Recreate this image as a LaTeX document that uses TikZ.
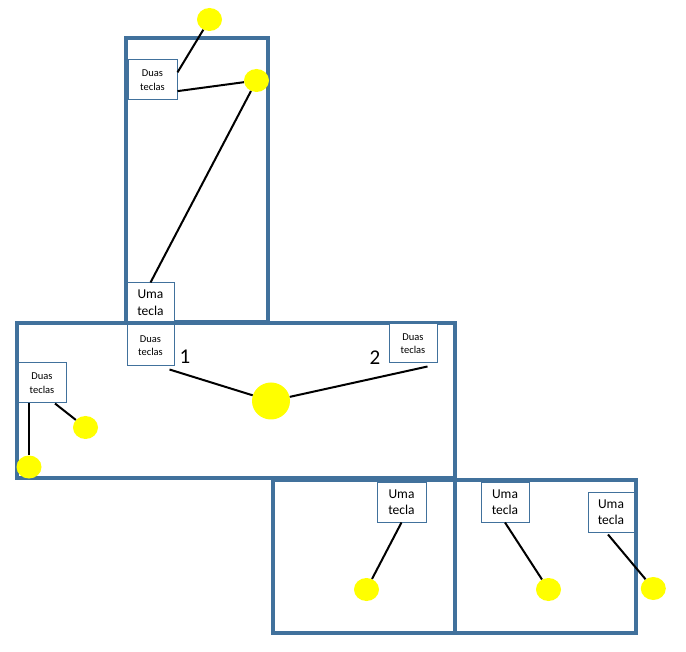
\documentclass[tikz,border=0pt]{standalone}
\usepackage{fontspec}
\setmainfont{Carlito}
\usetikzlibrary{shapes.geometric}
\definecolor{wallblue}{HTML}{41719C}
\definecolor{lampyellow}{HTML}{FFFF00}
\tikzset{
  wall/.style={draw=wallblue, line width=4pt, line join=miter},
  twokeys/.style={draw=wallblue, line width=1pt, fill=white, inner sep=0pt, align=center,
    font=\fontsize{10.5}{13.5}\selectfont},
  onekey/.style={draw=wallblue, line width=1pt, fill=white, inner sep=0pt, align=center,
    font=\fontsize{13.5}{16.5}\selectfont},
  lamp/.style={ellipse, fill=lampyellow, inner sep=0pt, minimum width=25pt, minimum height=23pt},
  wire/.style={draw=black, line width=2pt},
  numlabel/.style={font=\fontsize{21}{25}\selectfont, inner sep=0pt}
}
\begin{document}
\begin{tikzpicture}[x=1pt, y=-1pt]
\useasboundingbox (0,0) rectangle (686,652);
% rooms
\draw[wall] (126,38) rectangle (268,322);
\draw[wall] (17,323) rectangle (455,478);
\draw[wall] (273,479.5) rectangle (455,633);
\draw[wall] (455,479.5) rectangle (635.5,633);
% switch boxes
\node[twokeys, minimum width=49pt, minimum height=40pt] (dt1) at (152.5,80) {Duas\\teclas};
\node[onekey, minimum width=47pt, minimum height=39pt] (ut1) at (150.5,302.5) {Uma\\tecla};
\node[twokeys, minimum width=47pt, minimum height=41pt] (dm) at (150.5,345.5) {Duas\\teclas};
\node[twokeys, minimum width=48pt, minimum height=39pt] (dr) at (413,343.5) {Duas\\teclas};
\node[twokeys, minimum width=48pt, minimum height=40pt] (dl) at (42,383) {Duas\\teclas};
\node[onekey, minimum width=49pt, minimum height=40pt] (ub1) at (401.5,502) {Uma\\tecla};
\node[onekey, minimum width=48pt, minimum height=40pt] (ub2) at (505,502) {Uma\\tecla};
\node[onekey, minimum width=46pt, minimum height=40pt] (ub3) at (611,512) {Uma\\tecla};
% lamps
\node[lamp] (c1) at (209.5,19.5) {};
\node[lamp] (c2) at (256.5,80.5) {};
\node[lamp, minimum width=38pt, minimum height=37pt] (cb) at (271,401) {};
\node[lamp] (cl1) at (85.5,427.5) {};
\node[lamp] (cl2) at (29,467) {};
\node[lamp] (cb1) at (366.5,589.5) {};
\node[lamp] (cb2) at (548.5,589.5) {};
\node[lamp] (cb3) at (653.3,588.5) {};
% wires
\draw[wire] (dt1.17) -- (c1);
\draw[wire] (dt1.-24) -- (c2);
\draw[wire] (ut1.north) -- (c2);
\draw[wire] ([xshift=-5pt,yshift=-3pt]dm.south east) -- (cb);
\draw[wire] ([xshift=-10pt,yshift=-3pt]dr.south east) -- (cb);
\draw[wire] ([xshift=-13pt]dl.south) -- (cl2);
\draw[wire] ([xshift=13pt]dl.south) -- (cl1);
\draw[wire] (ub1.south) -- (cb1);
\draw[wire] (ub2.south) -- (cb2);
\draw[wire] ([xshift=-3pt,yshift=-2pt]ub3.south) -- (cb3);
% numbers
\node[numlabel] (n1) at (185,357) {1};
\node[numlabel] (n2) at (375,358) {2};
\end{tikzpicture}
\end{document}
